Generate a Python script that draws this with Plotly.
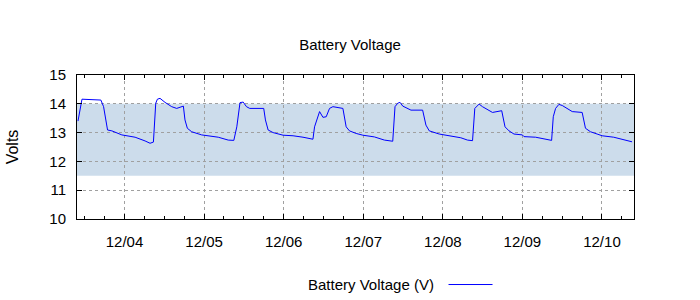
import plotly.graph_objects as go

times = [
    "2023-12-03 09:58", "2023-12-03 11:10", "2023-12-03 16:52", "2023-12-03 17:41",
    "2023-12-03 18:53", "2023-12-03 20:11", "2023-12-03 23:11", "2023-12-04 03:11",
    "2023-12-04 06:12", "2023-12-04 07:42", "2023-12-04 08:43", "2023-12-04 09:25",
    "2023-12-04 09:55", "2023-12-04 10:42", "2023-12-04 12:13", "2023-12-04 14:14",
    "2023-12-04 15:44", "2023-12-04 17:14", "2023-12-04 17:45", "2023-12-04 18:14",
    "2023-12-04 18:57", "2023-12-04 20:15", "2023-12-04 23:15", "2023-12-05 04:16",
    "2023-12-05 07:17", "2023-12-05 08:58", "2023-12-05 09:52", "2023-12-05 10:50",
    "2023-12-05 11:47", "2023-12-05 12:47", "2023-12-05 13:46", "2023-12-05 17:59",
    "2023-12-05 18:30", "2023-12-05 19:19", "2023-12-05 20:49", "2023-12-05 23:49",
    "2023-12-06 02:50", "2023-12-06 05:50", "2023-12-06 08:50", "2023-12-06 09:19",
    "2023-12-06 10:50", "2023-12-06 11:51", "2023-12-06 12:50", "2023-12-06 13:50",
    "2023-12-06 14:51", "2023-12-06 17:52", "2023-12-06 18:51", "2023-12-06 19:51",
    "2023-12-06 21:52", "2023-12-06 23:53", "2023-12-07 03:22", "2023-12-07 06:23",
    "2023-12-07 08:54", "2023-12-07 09:35", "2023-12-07 10:24", "2023-12-07 11:06",
    "2023-12-07 11:55", "2023-12-07 14:24", "2023-12-07 17:55", "2023-12-07 18:55",
    "2023-12-07 19:55", "2023-12-07 22:55", "2023-12-08 01:55", "2023-12-08 05:26",
    "2023-12-08 07:27", "2023-12-08 08:58", "2023-12-08 09:39", "2023-12-08 10:15",
    "2023-12-08 10:57", "2023-12-08 11:58", "2023-12-08 14:59", "2023-12-08 17:46",
    "2023-12-08 18:17", "2023-12-08 18:46", "2023-12-08 19:58", "2023-12-08 21:28",
    "2023-12-09 00:00", "2023-12-09 00:29", "2023-12-09 04:00", "2023-12-09 06:30",
    "2023-12-09 08:49", "2023-12-09 09:19", "2023-12-09 10:01", "2023-12-09 11:01",
    "2023-12-09 12:02", "2023-12-09 15:02", "2023-12-09 18:02", "2023-12-09 19:02",
    "2023-12-09 20:32", "2023-12-09 22:33", "2023-12-10 00:04", "2023-12-10 03:33",
    "2023-12-10 07:04", "2023-12-10 09:05",
]
voltage = [
    13.40, 14.16, 14.13, 13.90, 13.09, 13.06, 12.92, 12.84,
    12.71, 12.63, 12.67, 14.02, 14.16, 14.19, 14.05, 13.90,
    13.84, 13.90, 13.92, 13.44, 13.15, 13.03, 12.92, 12.84,
    12.74, 12.73, 13.20, 14.04, 14.06, 13.90, 13.84, 13.84,
    13.44, 13.09, 13.00, 12.91, 12.89, 12.84, 12.77, 13.20,
    13.73, 13.53, 13.55, 13.84, 13.90, 13.84, 13.20, 13.06,
    12.97, 12.91, 12.85, 12.74, 12.70, 13.90, 14.02, 14.05,
    13.92, 13.78, 13.78, 13.26, 13.06, 12.95, 12.88, 12.82,
    12.74, 12.72, 13.84, 13.90, 13.99, 13.90, 13.70, 13.76,
    13.44, 13.20, 13.06, 12.95, 12.92, 12.86, 12.84, 12.78,
    12.73, 13.55, 13.84, 13.98, 13.94, 13.73, 13.70, 13.15,
    13.03, 12.95, 12.89, 12.84, 12.74, 12.68,
]
band_low, band_high = 11.5, 14.0
x_range = ["2023-12-03 09:40", "2023-12-10 09:40"]
y_range = [10, 15]
series_name = "Battery Voltage (V)"
title_text = "Battery Voltage"
y_title = "Volts"

FONT = "Liberation Sans, Arial, sans-serif"
GRID = "#a0a0a0"

fig = go.Figure()
fig.add_trace(go.Scatter(
    x=times, y=voltage, mode="lines", name=series_name,
    line=dict(color="#0000ff", width=1), showlegend=False,
))

fig.add_shape(type="rect", xref="paper", yref="y", x0=0, x1=1,
              y0=band_low, y1=band_high, fillcolor="rgb(204,220,235)",
              line=dict(width=0), layer="below")

# legend emulation: text then line sample on the right
fig.add_annotation(xref="paper", yref="paper", x=0.645, y=-0.455,
                   xanchor="right", yanchor="middle", showarrow=False,
                   text=series_name, font=dict(family=FONT, size=15, color="#000"))
fig.add_shape(type="line", xref="paper", yref="paper", x0=0.667, x1=0.746,
              y0=-0.455, y1=-0.455, line=dict(color="#0000ff", width=1))

fig.update_layout(
    width=700, height=300,
    margin=dict(l=75, r=66, t=75, b=81),
    paper_bgcolor="white", plot_bgcolor="white",
    font=dict(family=FONT, size=14, color="#000"),
    title=dict(text=title_text, x=0.5, xanchor="center", y=0.85, yanchor="middle",
               font=dict(family=FONT, size=15, color="#000")),
    showlegend=False,
)
fig.update_xaxes(
    type="date", range=x_range, tickformat="%m/%d",
    tick0="2023-12-04", dtick=86400000,
    showline=True, linecolor="#000", linewidth=1, mirror="ticks",
    ticks="inside", ticklen=5, tickcolor="#000", ticklabelstandoff=9,
    showgrid=True, gridcolor=GRID, griddash="dot", gridwidth=1,
    minor=dict(dtick=21600000, ticks="inside", ticklen=3, tickcolor="#000", showgrid=False),
    tickfont=dict(family=FONT, size=15), zeroline=False,
)
fig.update_yaxes(
    range=y_range, dtick=1, title=dict(text=y_title, font=dict(family=FONT, size=16), standoff=26),
    showline=True, linecolor="#000", linewidth=1, mirror="ticks",
    ticks="inside", ticklen=5, tickcolor="#000", ticklabelstandoff=7,
    showgrid=True, gridcolor=GRID, griddash="dot", gridwidth=1,
    tickfont=dict(family=FONT, size=15), zeroline=False,
)

fig.write_html("out.html")
